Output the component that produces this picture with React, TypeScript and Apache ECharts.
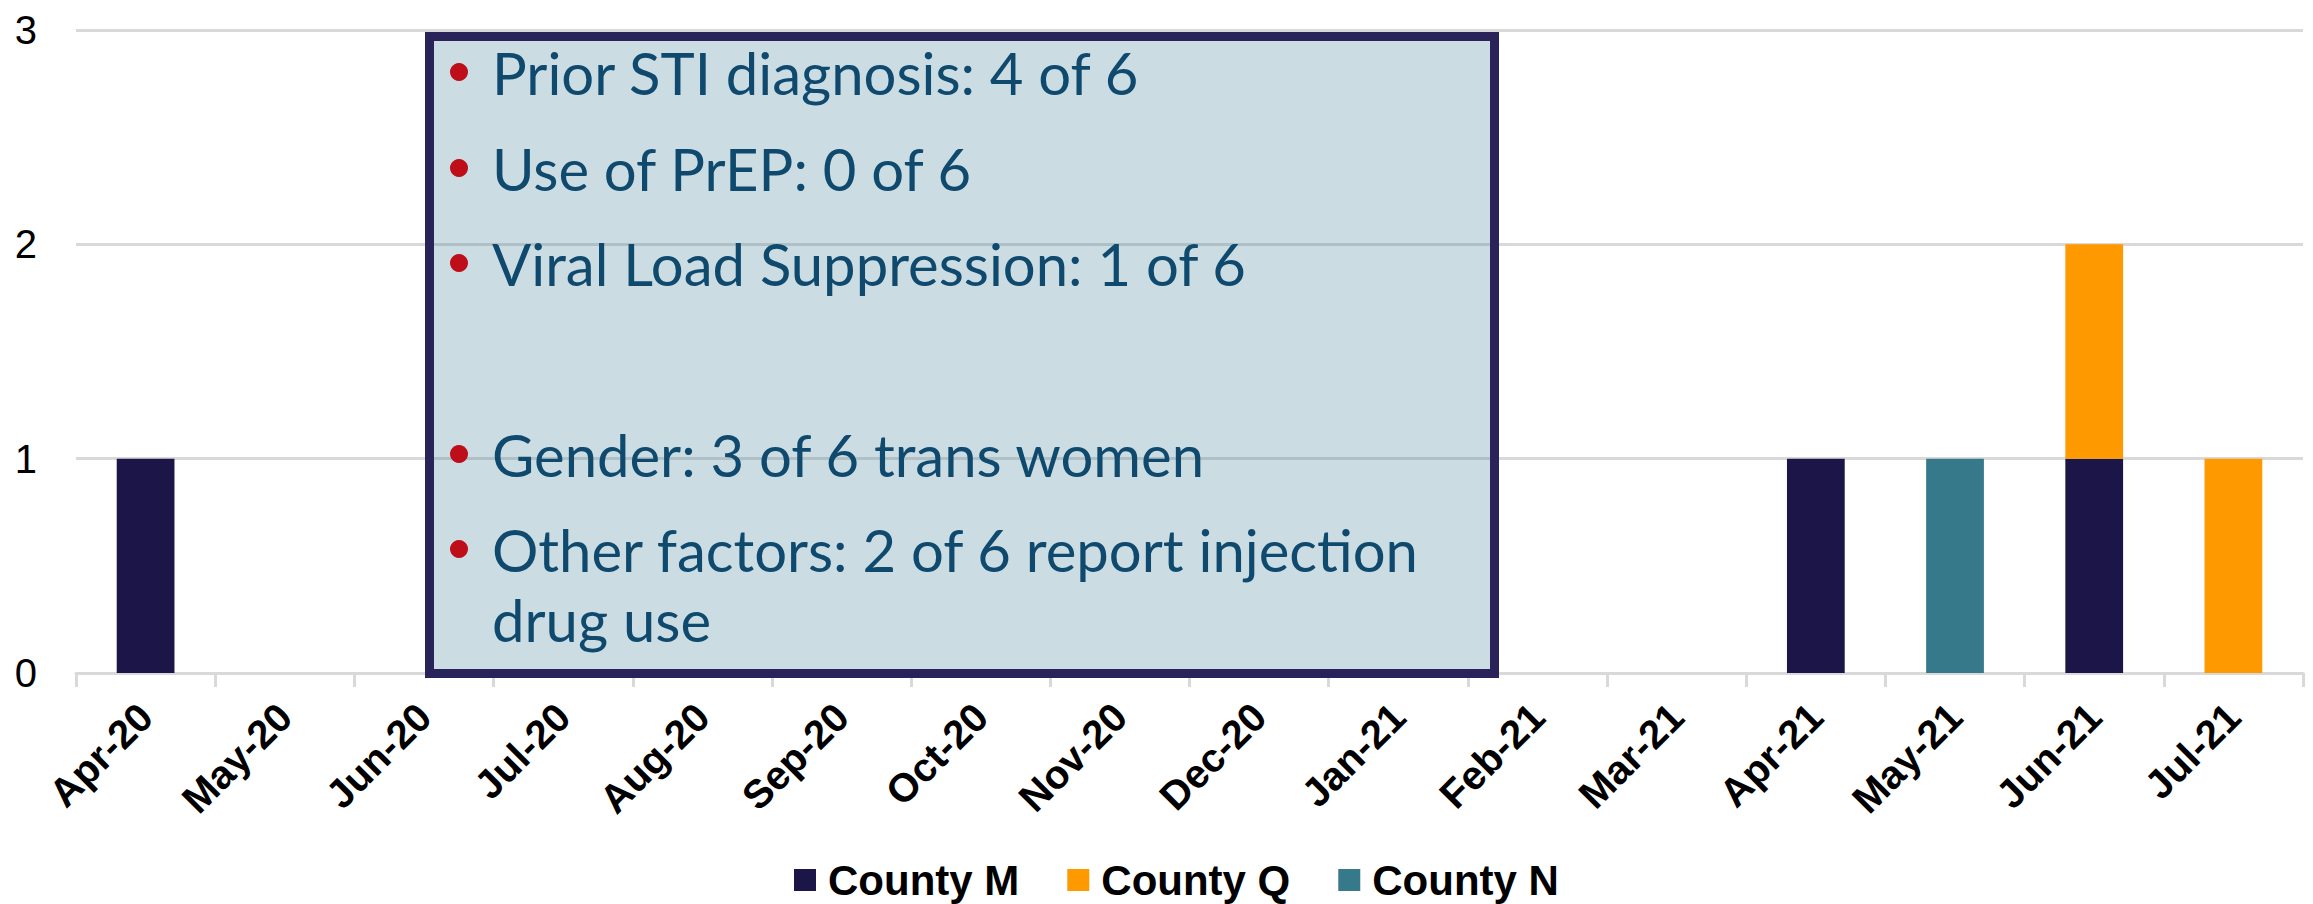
import React, { useEffect, useRef } from "react";
import * as echarts from "echarts";

const months = [
  "Apr-20", "May-20", "Jun-20", "Jul-20", "Aug-20", "Sep-20", "Oct-20", "Nov-20",
  "Dec-20", "Jan-21", "Feb-21", "Mar-21", "Apr-21", "May-21", "Jun-21", "Jul-21",
];
const countyM = [1, 0, 0, 0, 0, 0, 0, 0, 0, 0, 0, 0, 1, 0, 1, 0];
const countyQ = [0, 0, 0, 0, 0, 0, 0, 0, 0, 0, 0, 0, 0, 0, 1, 1];
const countyN = [0, 0, 0, 0, 0, 0, 0, 0, 0, 0, 0, 0, 0, 1, 0, 0];
const seriesNames = ["County M", "County Q", "County N"];
const seriesColors = ["#1C1548", "#FF9900", "#36798B"];

// note box lines: [text, hasBullet, baselineY]
const noteLines: [string, boolean, number][] = [
  ["Prior STI diagnosis: 4 of 6", true, 96],
  ["Use of PrEP: 0 of 6", true, 192],
  ["Viral Load Suppression: 1 of 6", true, 287],
  ["Gender: 3 of 6 trans women", true, 478],
  ["Other factors: 2 of 6 report injection", true, 573],
  ["drug use", false, 643],
];

export default function App() {
  const ref = useRef<HTMLDivElement>(null);
  useEffect(() => {
    if (!ref.current) return;
    const chart = echarts.init(ref.current, undefined, { renderer: "svg" });
    const noteFont = 58;
    const graphics: any[] = [
      {
        type: "rect",
        shape: { x: 429.5, y: 36.5, width: 1065, height: 637 },
        style: { fill: "rgba(55,124,143,0.26)", stroke: "#29235A", lineWidth: 9 },
        z: 100,
      },
    ];
    noteLines.forEach(([t, bullet, base]) => {
      if (bullet) {
        graphics.push({
          type: "circle",
          shape: { cx: 459, cy: base - 24, r: 9 },
          style: { fill: "#BE0E19" },
          z: 101,
        });
      }
      graphics.push({
        type: "text",
        x: 492,
        y: base - 0.3 * noteFont - 6,
        style: {
          text: t,
          fill: "#0F4A6E",
          font: `${noteFont}px Lato`,
          textAlign: "left",
          textVerticalAlign: "middle",
        },
        z: 101,
      });
    });
    const data = [countyM, countyQ, countyN];
    chart.setOption({
      animation: false,
      backgroundColor: "#FFFFFF",
      grid: { left: 76, right: 10, top: 30, bottom: 231, containLabel: false },
      legend: {
        left: 794,
        top: 859,
        padding: 0,
        itemGap: 48,
        itemWidth: 22,
        itemHeight: 22,
        icon: "rect",
        data: seriesNames,
        textStyle: {
          fontFamily: "Liberation Sans",
          fontSize: 42,
          lineHeight: 42,
          fontWeight: "bold",
          color: "#000000",
          padding: [0, 0, 0, 7],
        },
      },
      xAxis: {
        type: "category",
        data: months,
        boundaryGap: true,
        axisLine: { show: true, lineStyle: { color: "#D9D9D9", width: 3 } },
        axisTick: { show: true, length: 14, lineStyle: { color: "#D9D9D9", width: 3 } },
        axisLabel: {
          interval: 0,
          rotate: 45,
          margin: 37,
          padding: [38, 0, 0, 0],
          fontFamily: "Liberation Sans",
          fontSize: 40,
          fontWeight: "bold",
          color: "#000000",
        },
        splitLine: { show: false },
      },
      yAxis: {
        type: "value",
        min: 0,
        max: 3,
        interval: 1,
        axisLine: { show: false },
        axisTick: { show: false },
        axisLabel: {
          margin: 39,
          fontFamily: "Liberation Sans",
          fontSize: 40,
          color: "#000000",
        },
        splitLine: { lineStyle: { color: "#D9D9D9", width: 3 } },
      },
      series: seriesNames.map((name, i) => ({
        name,
        type: "bar",
        stack: "total",
        barWidth: "41.5%",
        data: data[i],
        itemStyle: { color: seriesColors[i] },
      })),
      graphic: graphics,
    });
    return () => chart.dispose();
  }, []);
  return (
    <div
      ref={ref}
      style={{ position: "fixed", left: 0, top: 0, width: 2313, height: 904 }}
    />
  );
}
